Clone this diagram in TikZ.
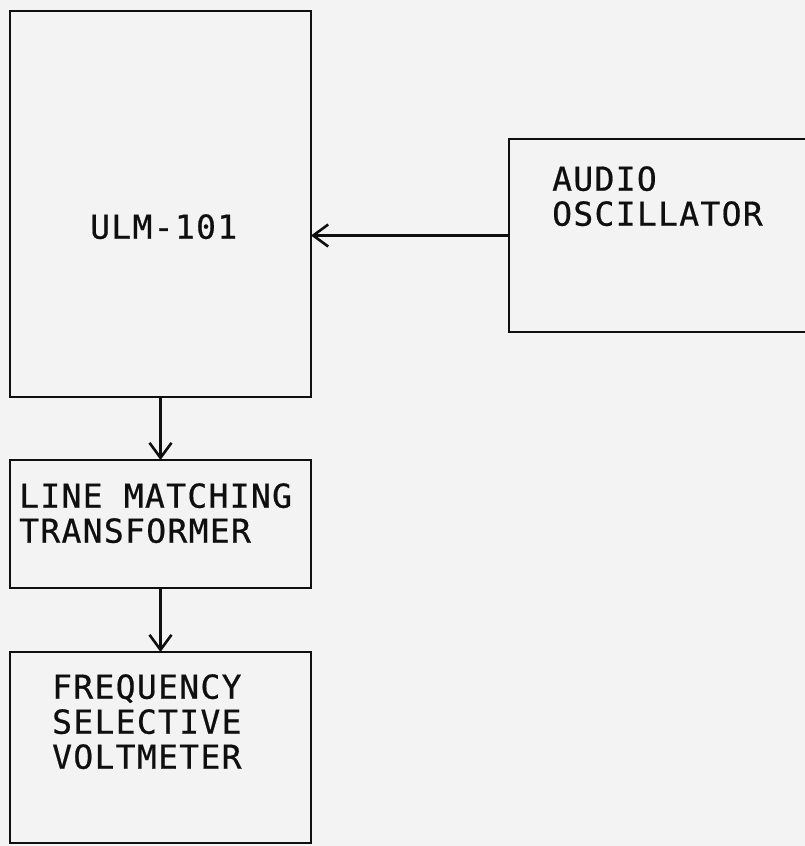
\documentclass[tikz,border=0pt]{standalone}
\usepackage{fontspec}
\newfontfamily\dotfont[LetterSpace=4,FakeBold=0.6]{DejaVu Sans Mono}
\usetikzlibrary{arrows.meta}
\definecolor{paper}{RGB}{243,243,243}
\definecolor{ink}{RGB}{15,15,15}
\tikzset{
  x=1pt, y=-1pt,
  blockbox/.style={draw=ink, line width=2.8pt, inner sep=0pt, outer sep=0pt, minimum width=#1},
  lbl/.style={font=\dotfont\fontsize{33}{35}\selectfont, text=ink, inner sep=0pt, align=left, anchor=north west},
  arr/.style={draw=ink, line width=2.6pt, -{Straight Barb[length=15pt,width=22pt,line width=2.6pt]}},
}
\begin{document}
\begin{tikzpicture}
\fill[paper] (0,0) rectangle (805,846);
\useasboundingbox (0,0) rectangle (805,846);
\clip (0,0) rectangle (805,846);
% blocks
\node[blockbox=301pt, minimum height=386pt] (ulm) at (160.5,204) {};
\node[blockbox=330pt, minimum height=193pt] (osc) at (674,235.5) {};
\node[blockbox=301pt, minimum height=128pt] (lmt) at (160.5,524) {};
\node[blockbox=301pt, minimum height=191pt] (fsv) at (160.5,747.5) {};
% labels
\node[lbl] (tulm) at (90,214) {ULM-101};
\node[lbl] (tosc) at (552,166) {AUDIO\\OSCILLATOR};
\node[lbl] (tlmt) at (19,483) {LINE MATCHING\\TRANSFORMER};
\node[lbl] (tfsv) at (52,674) {FREQUENCY\\SELECTIVE\\VOLTMETER};
% connectors
\draw[arr] (osc.west) -- (osc.west -| ulm.east);
\draw[arr] (ulm.south) -- (lmt.north);
\draw[arr] (lmt.south) -- (fsv.north);
\end{tikzpicture}
\end{document}
